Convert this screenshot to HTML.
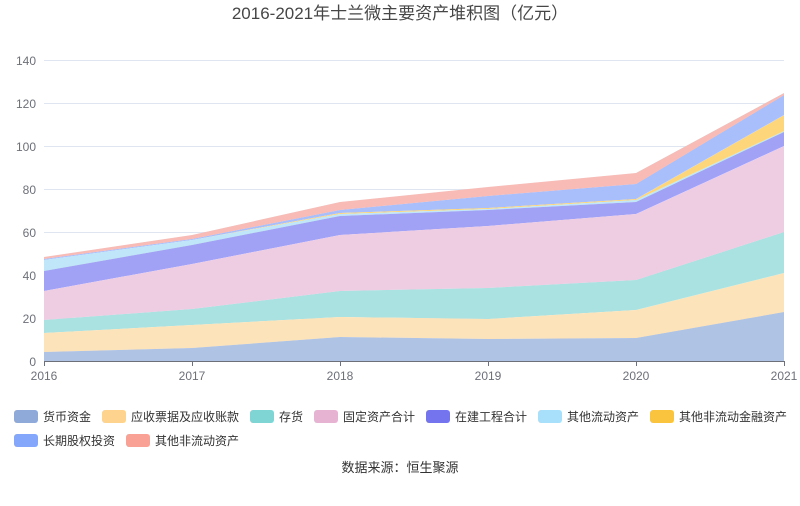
<!DOCTYPE html><html><head><meta charset="utf-8"><style>body{margin:0;background:#fff;font-family:"Liberation Sans","Noto Sans CJK SC",sans-serif}</style></head><body>
<svg width="800" height="501" xmlns="http://www.w3.org/2000/svg" font-family="Liberation Sans, Noto Sans CJK SC, sans-serif">
<text x="400" y="19" text-anchor="middle" font-size="17" fill="#464646">2016-2021年士兰微主要资产堆积图（亿元）</text>
<g stroke="#e0e6f1" stroke-width="1">
<line x1="44" x2="784" y1="60.5" y2="60.5"/><line x1="44" x2="784" y1="103.5" y2="103.5"/><line x1="44" x2="784" y1="146.5" y2="146.5"/><line x1="44" x2="784" y1="189.5" y2="189.5"/><line x1="44" x2="784" y1="232.5" y2="232.5"/><line x1="44" x2="784" y1="275.5" y2="275.5"/><line x1="44" x2="784" y1="318.5" y2="318.5"/></g>
<g font-size="12" fill="#6e7079" text-anchor="end">
<text x="36" y="65">140</text><text x="36" y="108">120</text><text x="36" y="151">100</text><text x="36" y="194">80</text><text x="36" y="237">60</text><text x="36" y="280">40</text><text x="36" y="323">20</text><text x="36" y="366">0</text></g>
<g>
<polygon fill="#f8bbb6" points="44,257 192,235 340,202 488,187 636,173 784,93 784,95 636,184 488,196 340,210 192,239 44,259"/>
<polygon fill="#a8bffb" points="44,259 192,239 340,210 488,196 636,184 784,95 784,115 636,199 488,208 340,213 192,240 44,260"/>
<polygon fill="#fdd67c" points="44,260 192,240 340,213 488,208 636,199 784,115 784,131 636,200 488,209 340,214 192,240 44,260"/>
<polygon fill="#bfe6f9" points="44,260 192,240 340,214 488,209 636,200 784,131 784,132 636,202 488,210 340,216 192,245 44,271"/>
<polygon fill="#a1a1f5" points="44,271 192,245 340,216 488,210 636,202 784,132 784,146 636,214 488,226 340,235 192,264 44,291"/>
<polygon fill="#eecde3" points="44,291 192,264 340,235 488,226 636,214 784,146 784,232 636,280 488,288 340,291 192,309 44,320"/>
<polygon fill="#aae1e1" points="44,320 192,309 340,291 488,288 636,280 784,232 784,273 636,310 488,319 340,317 192,325 44,333"/>
<polygon fill="#fde3b9" points="44,333 192,325 340,317 488,319 636,310 784,273 784,312 636,338 488,339 340,337 192,348 44,352"/>
<polygon fill="#afc3e4" points="44,352 192,348 340,337 488,339 636,338 784,312 784,361 44,361"/>
</g>
<g stroke="#6e7079"><line x1="44" x2="784" y1="361.5" y2="361.5"/>
<line x1="44.5" x2="44.5" y1="361" y2="366"/><line x1="192.5" x2="192.5" y1="361" y2="366"/><line x1="340.5" x2="340.5" y1="361" y2="366"/><line x1="488.5" x2="488.5" y1="361" y2="366"/><line x1="636.5" x2="636.5" y1="361" y2="366"/><line x1="784.5" x2="784.5" y1="361" y2="366"/></g>
<g font-size="12" fill="#6e7079" text-anchor="middle">
<text x="44" y="380">2016</text><text x="192" y="380">2017</text><text x="340" y="380">2018</text><text x="488" y="380">2019</text><text x="636" y="380">2020</text><text x="784" y="380">2021</text></g>
<g font-size="12" fill="#333">
<rect x="14" y="410" width="24" height="13" rx="3" fill="#8fa9d8"/><text x="43" y="421">货币资金</text>
<rect x="102" y="410" width="24" height="13" rx="3" fill="#fdd38e"/><text x="131" y="421">应收票据及应收账款</text>
<rect x="250" y="410" width="24" height="13" rx="3" fill="#7fd4d4"/><text x="279" y="421">存货</text>
<rect x="314" y="410" width="24" height="13" rx="3" fill="#e6b3d3"/><text x="343" y="421">固定资产合计</text>
<rect x="426" y="410" width="24" height="13" rx="3" fill="#7474ef"/><text x="455" y="421">在建工程合计</text>
<rect x="538" y="410" width="24" height="13" rx="3" fill="#a8dffa"/><text x="567" y="421">其他流动资产</text>
<rect x="650" y="410" width="24" height="13" rx="3" fill="#fbc43e"/><text x="679" y="421">其他非流动金融资产</text>
<rect x="14" y="434" width="24" height="13" rx="3" fill="#84a6fb"/><text x="43" y="445">长期股权投资</text>
<rect x="126" y="434" width="24" height="13" rx="3" fill="#f9a195"/><text x="155" y="445">其他非流动资产</text>
</g>
<text x="400" y="472" text-anchor="middle" font-size="13" fill="#333">数据来源：恒生聚源</text>
</svg></body></html>
